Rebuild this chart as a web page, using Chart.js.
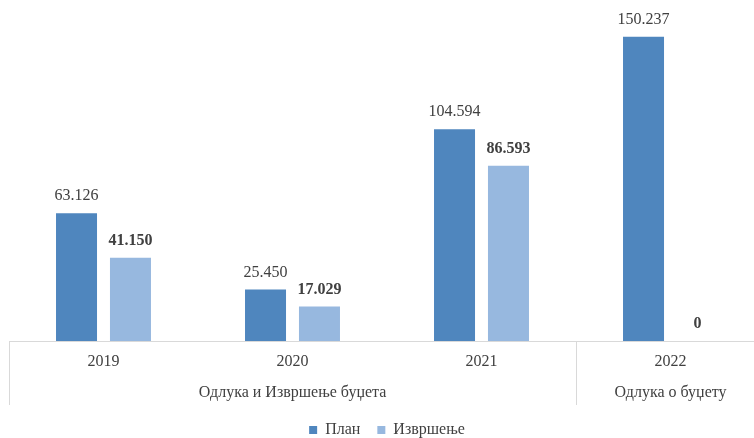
<!DOCTYPE html>
<html>
<head>
<meta charset="utf-8">
<script src="https://cdn.jsdelivr.net/npm/chart.js@4.4.1/dist/chart.umd.min.js"></script>
<style>
  html, body { margin: 0; padding: 0; background: #fff; overflow: hidden; }
  #wrap { position: relative; width: 766px; height: 448px; }
</style>
</head>
<body>
<div id="wrap"><canvas id="budgetChart"></canvas></div>
<script>
const years = ['2019', '2020', '2021', '2022'];
const planValues = [63.126, 25.450, 104.594, 150.237];
const execValues = [41.150, 17.029, 86.593, 0];
// top-level category groups: label + first/last year index
const groupNames = ['Одлука и Извршење буџета', 'Одлука о буџету'];
const groupFrom = [0, 3];
const groupTo = [2, 3];

const textColor = '#404040';
const serif = '"Liberation Serif", "Times New Roman", serif';

function fmt(v) {
    return v === 0 ? '0' : v.toFixed(3);
}

// value labels above bars, plan normal / execution bold
const barLabels = {
    id: 'barLabels',
    afterDatasetsDraw(chart) {
        const ctx = chart.ctx;
        ctx.save();
        ctx.fillStyle = textColor;
        ctx.textAlign = 'center';
        ctx.textBaseline = 'bottom';
        chart.data.datasets.forEach((ds, i) => {
            const meta = chart.getDatasetMeta(i);
            ctx.font = (i === 1 ? 'bold ' : '') + '16px ' + serif;
            meta.data.forEach((bar, j) => {
                ctx.fillText(fmt(ds.data[j]), bar.x, bar.y - 9);
            });
        });
        ctx.restore();
    }
};

// two-level category axis: years, then groups with separators
const groupAxis = {
    id: 'groupAxis',
    afterDraw(chart) {
        const ctx = chart.ctx;
        const x = chart.scales.x;
        const area = chart.chartArea;
        const step = x.getPixelForValue(1) - x.getPixelForValue(0);
        const base = area.bottom;
        ctx.save();
        ctx.strokeStyle = '#d9d9d9';
        ctx.lineWidth = 1;
        ctx.beginPath();
        ctx.moveTo(area.left, base + 0.5);
        ctx.lineTo(area.right, base + 0.5);
        ctx.stroke();

        ctx.fillStyle = textColor;
        ctx.textAlign = 'center';
        ctx.textBaseline = 'middle';
        ctx.font = '16px ' + serif;
        years.forEach((y, i) => {
            ctx.fillText(y, x.getPixelForValue(i), base + 21);
        });
        groupNames.forEach((name, g) => {
            const left = x.getPixelForValue(groupFrom[g]) - step / 2;
            const right = x.getPixelForValue(groupTo[g]) + step / 2;
            ctx.fillText(name, (left + right) / 2, base + 52);
            [left, right].forEach(px => {
                const lx = Math.round(px) + 0.5;
                ctx.beginPath();
                ctx.moveTo(lx, base);
                ctx.lineTo(lx, base + 64);
                ctx.stroke();
            });
        });
        ctx.restore();
    }
};

new Chart(document.getElementById('budgetChart'), {
    type: 'bar',
    data: {
        labels: years,
        datasets: [
            {
                label: 'План',
                data: planValues,
                backgroundColor: '#4F86BE',
                categoryPercentage: 0.571,
                barPercentage: 0.76
            },
            {
                label: 'Извршење',
                data: execValues,
                backgroundColor: '#97B8DF',
                categoryPercentage: 0.571,
                barPercentage: 0.76
            }
        ]
    },
    options: {
        responsive: true,
        maintainAspectRatio: false,
        animation: false,
        layout: { padding: { left: 9, right: 1, top: 17, bottom: 0 } },
        plugins: {
            tooltip: { enabled: false },
            legend: {
                position: 'bottom',
                labels: {
                    boxWidth: 8,
                    boxHeight: 8,
                    color: textColor,
                    font: { family: serif, size: 16 },
                    padding: 17
                }
            }
        },
        scales: {
            x: {
                grid: { display: false },
                border: { display: false },
                ticks: { display: false },
                afterFit(scale) { scale.height = 64; }
            },
            y: {
                display: false,
                min: 0,
                max: 160
            }
        }
    },
    plugins: [barLabels, groupAxis]
});
</script>
</body>
</html>
